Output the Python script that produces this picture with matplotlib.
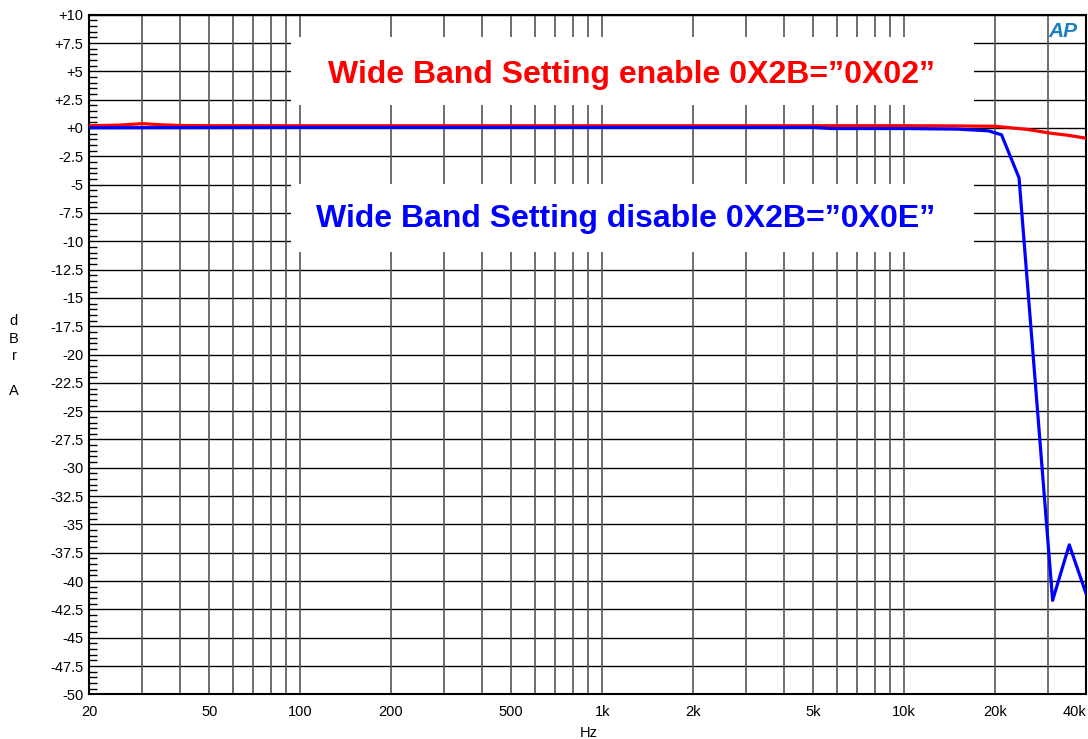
import matplotlib.pyplot as plt
from matplotlib.patches import Rectangle
from matplotlib.ticker import FixedLocator, NullFormatter

plt.rcParams['font.family'] = ['Liberation Sans', 'DejaVu Sans']

# frequency response data (Hz, dBrA)
red_freq = [20, 25, 30, 35, 40, 50, 100, 1000, 10000, 15000, 20000, 25500, 30300, 35000, 40000]
red_db = [0.2, 0.25, 0.38, 0.28, 0.22, 0.2, 0.2, 0.2, 0.2, 0.18, 0.15, -0.12, -0.45, -0.65, -0.9]

blue_freq = [20, 100, 1000, 5000, 5800, 10000, 15000, 19000, 21000, 24000, 31000, 35200, 40000]
blue_db = [0.02, 0.05, 0.05, 0.05, -0.05, -0.05, -0.1, -0.25, -0.6, -4.4, -41.7, -36.8, -41.1]

xtick_vals = [20, 50, 100, 200, 500, 1000, 2000, 5000, 10000, 20000, 40000]
xtick_labels = ["20", "50", "100", "200", "500", "1k", "2k", "5k", "10k", "20k", "40k"]
ytick_vals = [10 - 2.5 * i for i in range(25)]
ytick_labels = [("+%g" % v if v >= 0 else "%g" % v) for v in ytick_vals]
xgrid_vals = [m * 10 ** e for e in range(1, 5) for m in range(1, 10)]

fig = plt.figure(figsize=(10.88, 7.39), dpi=100)
ax = fig.add_axes([0.0818, 0.0604, 0.9164, 0.9197])

ax.plot(red_freq, red_db, color='#ff0000', lw=2.3, zorder=3)
ax.plot(blue_freq, blue_db, color='#0000ff', lw=2.3, zorder=4)

ax.set_xscale('log')
ax.set_xlim(20, 40000)
ax.set_ylim(-50, 10)

# grid
for v in ytick_vals:
    ax.axhline(v, color='black', lw=1.0, zorder=0.5)
for v in xgrid_vals:
    if 20 < v < 40000:
        ax.axvline(v, color='#555555', lw=1.2, zorder=0.5)

ax.xaxis.set_major_locator(FixedLocator(xtick_vals))
ax.set_xticklabels(xtick_labels, fontsize=10.5)
ax.xaxis.set_minor_formatter(NullFormatter())
ax.tick_params(axis='x', which='both', length=0, pad=8)
ax.get_xticklabels()[-1].set_ha('right')

ax.set_yticks(ytick_vals)
ax.set_yticklabels(ytick_labels, fontsize=10.5)
ax.yaxis.set_minor_locator(FixedLocator([10 - 0.5 * i for i in range(121)]))
ax.tick_params(axis='y', which='major', length=0, pad=4)
ax.tick_params(axis='y', which='minor', direction='in', length=6, width=1, color='black')

for s in ax.spines.values():
    s.set_linewidth(1.5)

# white boxes behind annotations
ax.add_patch(Rectangle((0.2026, 0.867), 0.6846, 0.100, transform=ax.transAxes,
                       facecolor='white', edgecolor='none', zorder=1))
ax.add_patch(Rectangle((0.2026, 0.651), 0.6846, 0.100, transform=ax.transAxes,
                       facecolor='white', edgecolor='none', zorder=1))
ax.text(0.544, 0.912, 'Wide Band Setting enable 0X2B=\u201d0X02\u201d', transform=ax.transAxes,
        color='#ff0000', fontsize=23, fontweight='bold', ha='center', va='center', zorder=2)
ax.text(0.538, 0.700, 'Wide Band Setting disable 0X2B=\u201d0X0E\u201d', transform=ax.transAxes,
        color='#0000ff', fontsize=23, fontweight='bold', ha='center', va='center', zorder=2)

# logo
ax.text(0.977, 0.975, 'AP', transform=ax.transAxes, color='#1a7fc0', fontsize=15,
        fontstyle='italic', fontweight='bold', ha='center', va='center', zorder=5)

fig.text(589 / 1088, 1 - 733 / 739, 'Hz', ha='center', va='center', fontsize=10.5)
fig.text(14 / 1088, 1 - 356 / 739, 'd\nB\nr\n\nA', ha='center', va='center', fontsize=10.5,
         linespacing=1.3)

fig.savefig('out.png', dpi=100)
